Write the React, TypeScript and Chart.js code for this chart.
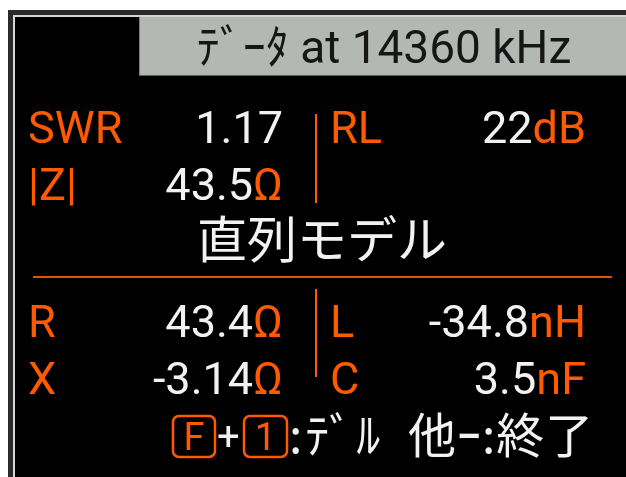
import React, { useEffect, useRef } from "react";
import { Chart, registerables } from "chart.js";

Chart.register(...registerables);

// ---- data ----
const headerPrefix = ["ﾃﾞｰﾀ at"];
const frequencyKHz = [14360];
const frequencyUnit = ["kHz"];
const modelLabel = ["直列モデル"];

const leftLabels = ["SWR", "|Z|", "R", "X"];
const leftValues = [1.17, 43.5, 43.4, -3.14];
const leftDecimals = [2, 1, 1, 2];
const leftUnits = ["", "Ω", "Ω", "Ω"];

const rightLabels = ["RL", "", "L", "C"];
const rightValues: (number | null)[] = [22, null, -34.8, 3.5];
const rightDecimals = [0, 0, 1, 1];
const rightUnits = ["dB", "", "nH", "nF"];

const footerKeys = ["F", "1"];
const footerTexts = ["+", ":ﾃﾞﾙ", "他ｰ:終了"];

// ---- layout / style constants ----
const ORANGE = "#ff5a00";
const WHITE = "#f2f2f2";
const LATIN = "Roboto, 'Noto Sans CJK JP', sans-serif";
const CJK = "'Noto Sans CJK JP', Roboto, sans-serif";
const rowBaselines = [143, 200, 337, 394];

const screenPlugin = {
  id: "screen",
  beforeDraw(chart: any) {
    const ctx: CanvasRenderingContext2D = chart.ctx;
    const xs = chart.scales.x;
    const ys = chart.scales.y;
    const X = (v: number) => xs.getPixelForValue(v);
    const Y = (v: number) => ys.getPixelForValue(v);
    const rect = (x0: number, y0: number, x1: number, y1: number, c: string) => {
      ctx.fillStyle = c;
      ctx.fillRect(X(x0), Y(y0), X(x1) - X(x0), Y(y1) - Y(y0));
    };
    ctx.save();
    // page + frame
    rect(0, 0, 626, 477, "#ffffff");
    rect(8, 10, 626, 477, "#2b2929");
    rect(13, 15, 626, 477, "#d6d6d6");
    rect(15, 17, 626, 477, "#000000");
    // header bar
    rect(139, 17, 626, 76, "#b4b8b4");
    rect(139, 17, 140, 76, "#7c7e7c");
    rect(139, 75, 626, 76, "#5e605e");

    ctx.textBaseline = "alphabetic";
    // header text
    ctx.fillStyle = "#161616";
    ctx.font = `46px ${LATIN}`;
    ctx.textAlign = "center";
    ctx.fillText(`${headerPrefix[0]} ${frequencyKHz[0]} ${frequencyUnit[0]}`, X(384), Y(63));

    const drawValue = (right: number, base: number, val: string, unit: string) => {
      ctx.font = `45px ${LATIN}`;
      ctx.textAlign = "right";
      let ux = X(right);
      if (unit) {
        ctx.fillStyle = ORANGE;
        ctx.fillText(unit, ux, Y(base));
        ux -= ctx.measureText(unit).width;
      }
      ctx.fillStyle = WHITE;
      ctx.fillText(val, ux, Y(base));
    };

    for (let i = 0; i < leftLabels.length; i++) {
      const b = rowBaselines[i];
      ctx.font = `45px ${LATIN}`;
      ctx.textAlign = "left";
      ctx.fillStyle = ORANGE;
      ctx.fillText(leftLabels[i], X(28), Y(b));
      drawValue(283, b, leftValues[i].toFixed(leftDecimals[i]), leftUnits[i]);
      if (rightLabels[i]) {
        ctx.font = `45px ${LATIN}`;
        ctx.textAlign = "left";
        ctx.fillStyle = ORANGE;
        ctx.fillText(rightLabels[i], X(330), Y(b));
      }
      const rv = rightValues[i];
      if (rv !== null) drawValue(586, b, rv.toFixed(rightDecimals[i]), rightUnits[i]);
    }

    // separators
    rect(315, 114, 317, 203, ORANGE);
    rect(315, 289, 317, 377, ORANGE);
    rect(33, 276, 612, 278, "#e85000");

    // model label
    ctx.fillStyle = WHITE;
    ctx.textAlign = "left";
    ctx.font = `50px ${CJK}`;
    ctx.fillText(modelLabel[0], X(197), Y(258));

    // footer key boxes
    const keyBox = (x0: number, x1: number, label: string) => {
      ctx.strokeStyle = ORANGE;
      ctx.lineWidth = 2.5;
      ctx.beginPath();
      (ctx as any).roundRect(X(x0), Y(416), X(x1) - X(x0), Y(457) - Y(416), 6);
      ctx.stroke();
      ctx.fillStyle = ORANGE;
      ctx.textAlign = "center";
      ctx.font = `38px ${LATIN}`;
      ctx.fillText(label, (X(x0) + X(x1)) / 2, Y(450));
    };
    keyBox(173, 215, footerKeys[0]);
    keyBox(244, 287, footerKeys[1]);
    ctx.fillStyle = WHITE;
    ctx.textAlign = "left";
    ctx.font = `40px ${LATIN}`;
    ctx.fillText(footerTexts[0], X(217), Y(450));
    ctx.font = `48px ${CJK}`;
    (ctx as any).letterSpacing = "3px";
    ctx.fillText(footerTexts[1], X(289), Y(453));
    (ctx as any).letterSpacing = "1px";
    ctx.fillText(footerTexts[2], X(408), Y(453));
    (ctx as any).letterSpacing = "0px";
    ctx.restore();
  },
};

export default function App() {
  const ref = useRef<HTMLCanvasElement>(null);
  useEffect(() => {
    if (!ref.current) return;
    const chart = new Chart(ref.current, {
      type: "scatter",
      data: { datasets: [] },
      options: {
        animation: false,
        responsive: false,
        maintainAspectRatio: false,
        events: [],
        layout: { padding: 0 },
        plugins: { legend: { display: false }, tooltip: { enabled: false } },
        scales: {
          x: { type: "linear", min: 0, max: 626, display: false },
          y: { type: "linear", min: 0, max: 477, reverse: true, display: false },
        },
      },
      plugins: [screenPlugin],
    });
    return () => chart.destroy();
  }, []);
  return (
    <div style={{ position: "fixed", left: 0, top: 0, width: 626, height: 477 }}>
      <canvas ref={ref} width={626} height={477} style={{ display: "block" }} />
    </div>
  );
}
